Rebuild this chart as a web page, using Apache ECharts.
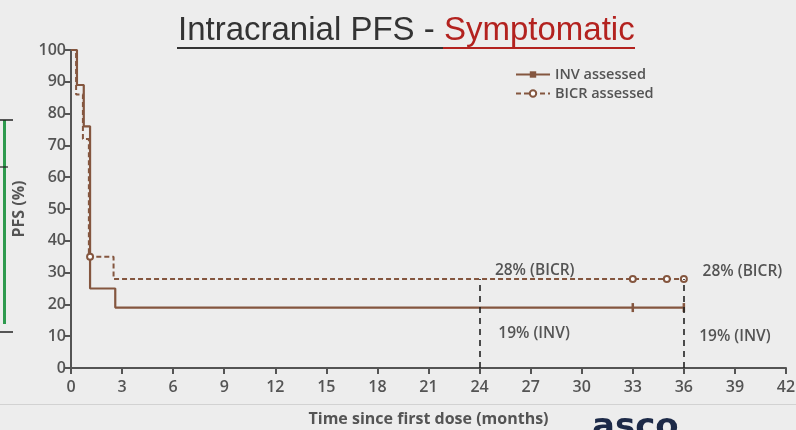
<!DOCTYPE html>
<html>
<head>
<meta charset="utf-8">
<script src="https://cdn.jsdelivr.net/npm/echarts@6/dist/echarts.min.js"></script>
<style>
  html, body { margin: 0; padding: 0; background: #ededed; }
  #chart { width: 796px; height: 430px; }
</style>
</head>
<body>
<div id="chart"></div>
<script>
// Kaplan–Meier intracranial PFS, symptomatic subgroup
const invTimes    = [0, 0.35, 0.75, 1.12, 2.6, 33, 36];
const invPfs      = [100, 89, 76, 25, 19, 19, 19];
const invCensored = [0, 0, 0, 0, 0, 1, 1];

const bicrTimes    = [0, 0.3, 0.7, 1.05, 1.12, 2.5, 33, 35, 36];
const bicrPfs      = [100, 86, 72, 35, 35, 28, 28, 28, 28];
const bicrCensored = [0, 0, 0, 0, 1, 0, 1, 1, 1];

// Landmark time points (months) and plateau rates
const landmarkMonths = [24, 36];
const bicrRate = 28;
const invRate = 19;

const xTicks = { min: 0, max: 42, interval: 3 };
const yTicks = { min: 0, max: 100, interval: 10 };

const brown = '#84563f';
const grey = '#545454';
const labelFont = '"Open Sans", "DejaVu Sans", sans-serif';
const titleFont = '"Liberation Sans", Arial, sans-serif';

function kmData(times, vals, cens, censorSymbol) {
  return times.map((t, i) => ({
    value: [t, vals[i]],
    symbol: cens[i] ? censorSymbol : 'none'
  }));
}

const invSymbol = 'rect';
const bicrSymbol = 'emptyCircle';

const labelStyle = {
  color: grey, fontFamily: labelFont, fontWeight: 600, fontSize: 15.5
};

function textPoint(x, y, text, align) {
  return {
    coord: [x, y], value: text, symbolSize: 0,
    label: Object.assign({ show: true, formatter: text, align: align || 'left',
      verticalAlign: 'middle', position: 'inside' }, labelStyle)
  };
}

const chart = echarts.init(document.getElementById('chart'), null, { renderer: 'canvas' });

chart.setOption({
  backgroundColor: '#ededed',
  animation: false,
  title: {
    text: '{a|Intracranial PFS - }{b|Symptomatic}',
    left: 173, top: 9,
    textStyle: {
      fontWeight: 'normal',
      rich: {
        a: { fontFamily: titleFont, fontWeight: 'normal', fontSize: 33, color: '#333333' },
        b: { fontFamily: titleFont, fontWeight: 'normal', fontSize: 33, color: '#b3221f' }
      }
    }
  },
  legend: {
    orient: 'vertical', left: 510, top: 62, itemGap: 4,
    itemWidth: 34, itemHeight: 8,
    textStyle: { color: grey, fontFamily: labelFont, fontWeight: 600, fontSize: 14.5 },
    data: ['INV assessed', 'BICR assessed']
  },
  grid: { left: 71, right: 10, top: 50, bottom: 62, outerBoundsMode: 'none', containLabel: false },
  xAxis: {
    type: 'value', min: xTicks.min, max: xTicks.max, interval: xTicks.interval,
    name: 'Time since first dose (months)', nameLocation: 'middle', nameGap: 43,
    nameTextStyle: { color: grey, fontFamily: labelFont, fontWeight: 700, fontSize: 16 },
    axisLine: { lineStyle: { color: grey, width: 2 } },
    axisTick: { show: true, length: 6, lineStyle: { color: grey, width: 2 } },
    axisLabel: { color: grey, fontFamily: labelFont, fontWeight: 600, fontSize: 16, margin: 11 },
    splitLine: { show: false }
  },
  yAxis: {
    type: 'value', min: yTicks.min, max: yTicks.max, interval: yTicks.interval,
    name: 'PFS (%)', nameLocation: 'middle', nameGap: 40, nameRotate: 90,
    nameTextStyle: { color: grey, fontFamily: labelFont, fontWeight: 700, fontSize: 16 },
    axisLine: { show: true, lineStyle: { color: grey, width: 2 } },
    axisTick: { show: true, length: 6, lineStyle: { color: grey, width: 2 } },
    axisLabel: { color: grey, fontFamily: labelFont, fontWeight: 600, fontSize: 16, margin: 5 },
    splitLine: { show: false }
  },
  series: [
    {
      name: 'INV assessed', type: 'line', step: 'end',
      symbol: invSymbol, symbolSize: [2.5, 9],
      itemStyle: { color: brown },
      lineStyle: { color: brown, width: 2.2 },
      data: kmData(invTimes, invPfs, invCensored, invSymbol),
      z: 3
    },
    {
      name: 'BICR assessed', type: 'line', step: 'end',
      symbol: bicrSymbol, symbolSize: 6,
      itemStyle: { color: brown, borderColor: brown, borderWidth: 1.5 },
      lineStyle: { color: brown, width: 2, type: [5, 3] },
      data: kmData(bicrTimes, bicrPfs, bicrCensored, bicrSymbol),
      z: 3,
      markLine: {
        silent: true, symbol: 'none', label: { show: false },
        lineStyle: { color: '#222', width: 1.6, type: [6, 5] },
        data: landmarkMonths.map(m => [{ coord: [m, 0] }, { coord: [m, bicrRate] }])
      },
      markPoint: {
        silent: true, symbol: 'circle',
        data: [
          textPoint(24.9, bicrRate + 2.6, bicrRate + '% (BICR)', 'left'),
          textPoint(25.1, invRate - 8.2, invRate + '% (INV)', 'left'),
          textPoint(37.1, bicrRate + 2.2, bicrRate + '% (BICR)', 'left'),
          textPoint(36.9, invRate - 9.0, invRate + '% (INV)', 'left')
        ]
      }
    }
  ],
  graphic: [
    // cut-off caption at the very top
    { type: 'text', left: 262, top: -15,
      style: { text: 'Time since first dose (months)', fill: '#4a4a4a',
        font: '700 16px "Open Sans", sans-serif' } },
    // title underlines
    { type: 'line', shape: { x1: 177, y1: 48, x2: 443, y2: 48 }, style: { stroke: '#333', lineWidth: 2 } },
    { type: 'line', shape: { x1: 443, y1: 48, x2: 635, y2: 48 }, style: { stroke: '#b3221f', lineWidth: 2 } },
    // left bracket
    { type: 'line', shape: { x1: 4.5, y1: 120, x2: 4.5, y2: 324 }, style: { stroke: '#2e9a4e', lineWidth: 3 } },
    { type: 'line', shape: { x1: 0, y1: 120, x2: 13, y2: 120 }, style: { stroke: '#222', lineWidth: 1.5 } },
    { type: 'line', shape: { x1: 0, y1: 167, x2: 8, y2: 167 }, style: { stroke: '#222', lineWidth: 1.2 } },
    { type: 'line', shape: { x1: 0, y1: 332, x2: 13, y2: 332 }, style: { stroke: '#222', lineWidth: 1.5 } },
    // footer separator
    { type: 'line', shape: { x1: 0, y1: 404.5, x2: 796, y2: 404.5 }, style: { stroke: '#d2d2d2', lineWidth: 1 } },
    // footer logo fragment
    { type: 'text', left: 592, top: 411,
      style: { text: 'asco', fill: '#1d2a48', font: '700 34px "DejaVu Sans", sans-serif' } }
  ]
});
</script>
</body>
</html>
